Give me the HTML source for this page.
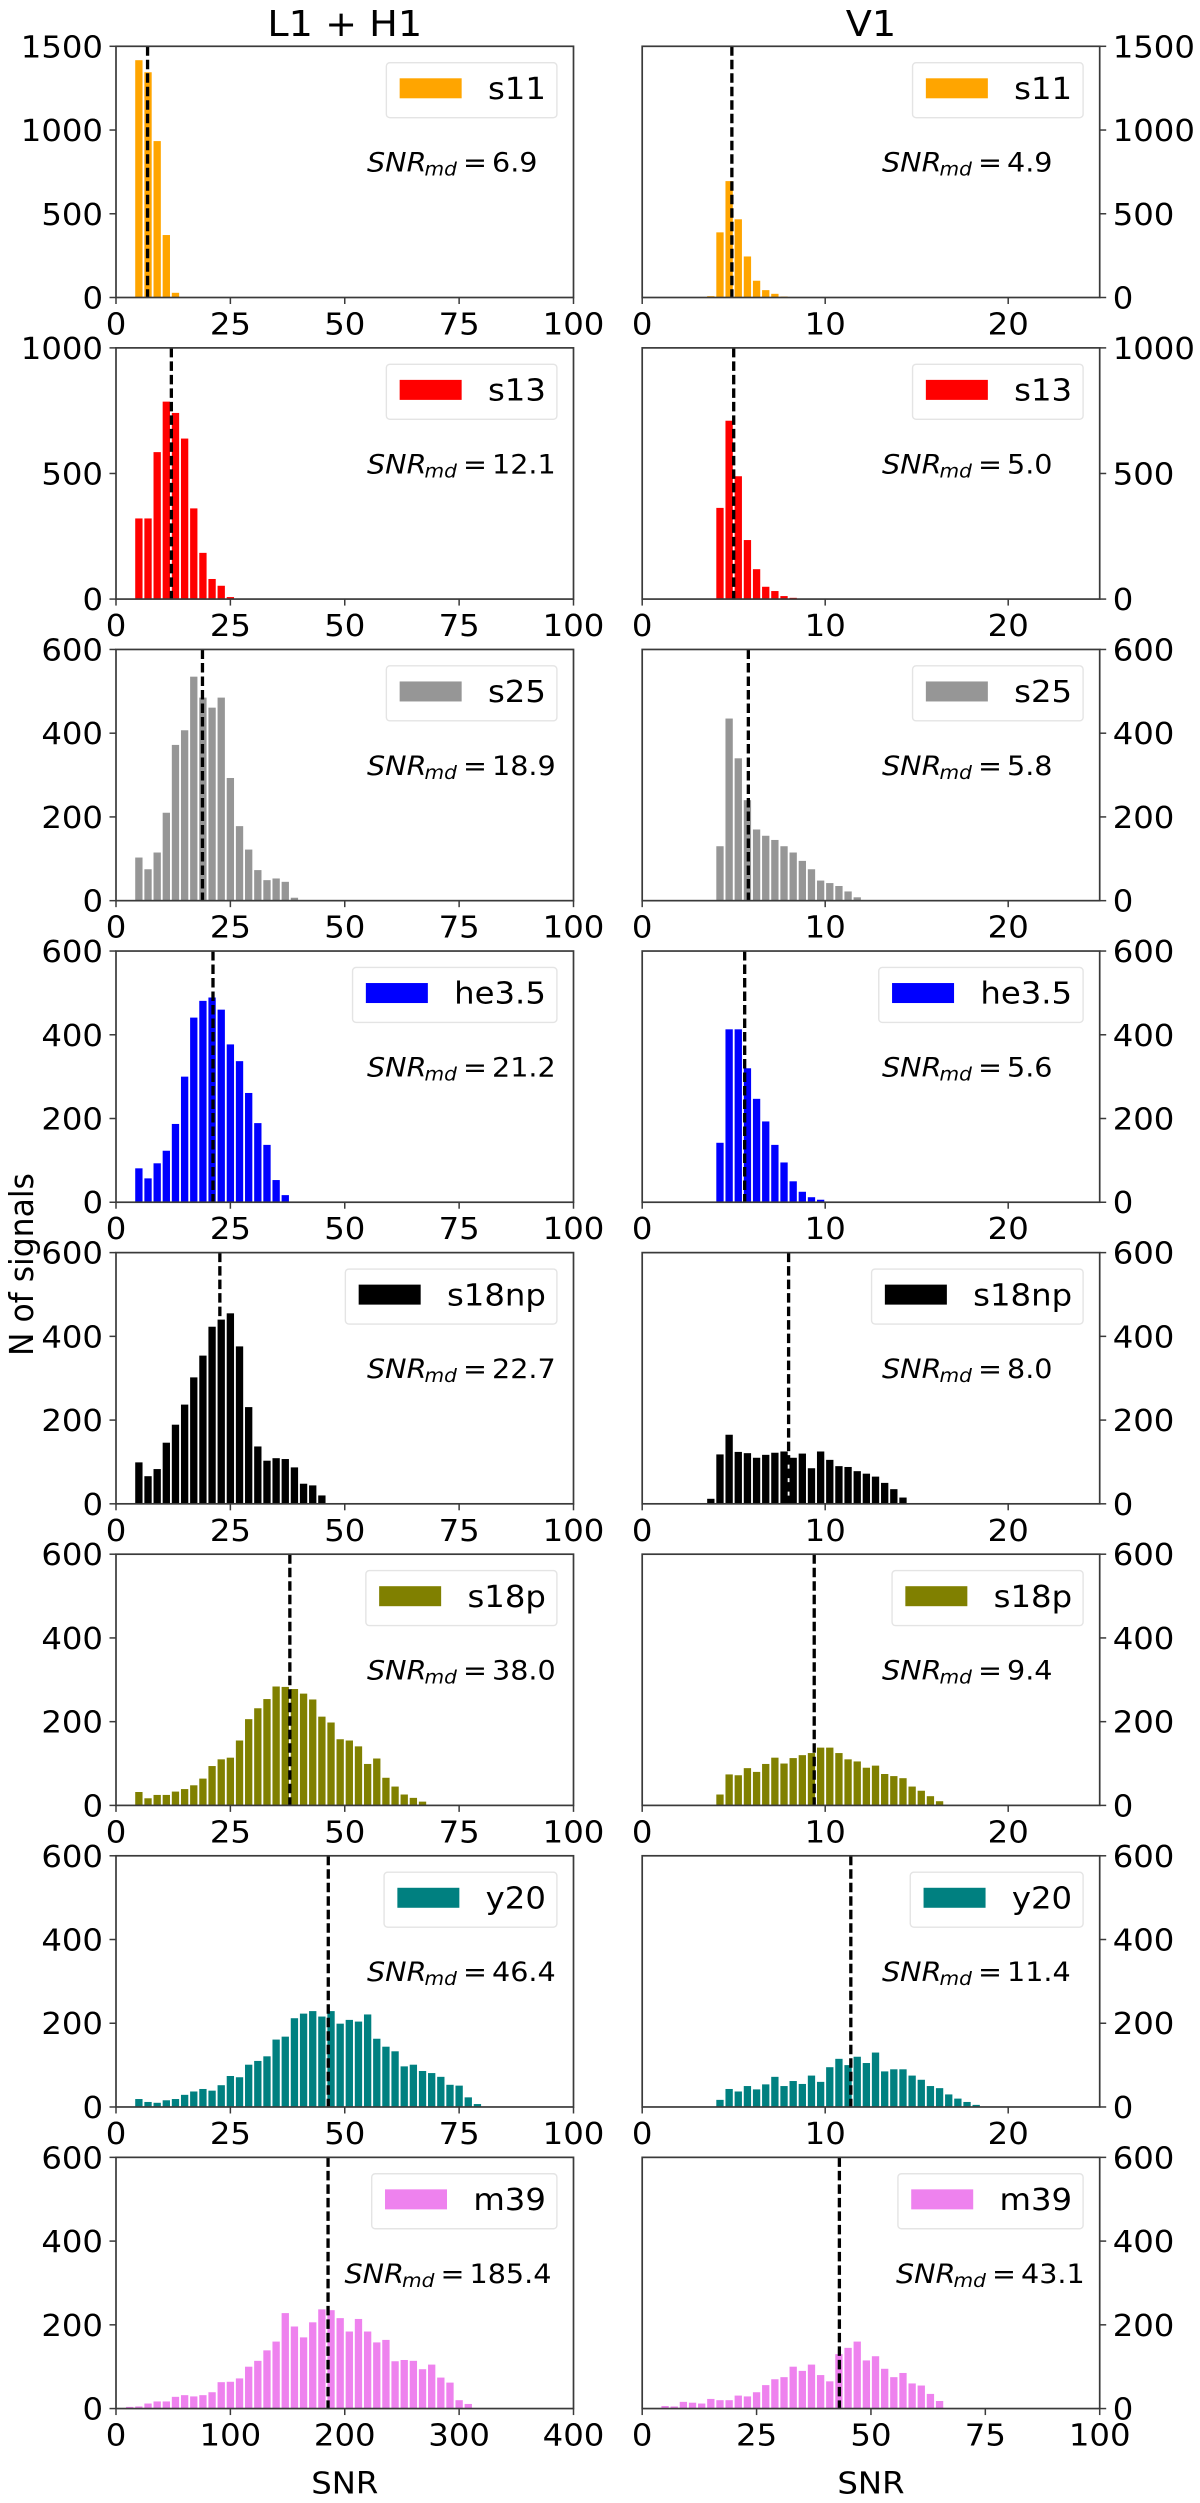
<!DOCTYPE html>
<html lang="en">
<head>
<meta charset="utf-8">
<title>SNR distributions</title>
<style>
html,body{margin:0;padding:0;background:#fff;}
svg{display:block;}
text{font-family:"DejaVu Sans","Liberation Sans",sans-serif;fill:#000;}
</style>
</head>
<body>
<svg id="chart" xmlns="http://www.w3.org/2000/svg" width="1200" height="2503" viewBox="0 0 1200 2503"></svg>
<script>
// ---- categories ----
const waveforms = ['s11','s13','s25','he3.5','s18np','s18p','y20','m39'];
const columnTitles = ['L1 + H1','V1'];
const axisTitleX = 'SNR';
const axisTitleY = 'N of signals';

// ---- printed medians ----
const medianLeft = [6.9,12.1,18.9,21.2,22.7,38.0,46.4,185.4];
const medianRight = [4.9,5.0,5.8,5.6,8.0,9.4,11.4,43.1];

// ---- tick labels ----
const yTicksLarge = [0,500,1000,1500];
const yTicksMedium = [0,500,1000];
const yTicksSmall = [0,200,400,600];
const xTicksLeft = [0,25,50,75,100];
const xTicksLeftWide = [0,100,200,300,400];
const xTicksRight = [0,10,20];
const xTicksRightWide = [0,25,50,75,100];

// ---- axis limits ----
const xMaxLeft = [100,100,100,100,100,100,100,400];
const xMaxRight = [25,25,25,25,25,25,25,100];
const yMax = [1500,1000,600,600,600,600,600,600];

// ---- SNR at the lower edge of the first bin of each series ----
const firstBinLeft = [4,4,4,4,4,4,4,8];
const firstBinRight = [3.5,4,4,4,3.5,4,4,4];

// ---- bin counts, L1 + H1 ----
const s11Left = [1417,1345,934,373,28];
const s13Left = [321,321,585,786,741,639,361,184,80,53,8];
const s25Left = [103,75,115,210,372,407,535,485,461,485,293,178,122,73,49,53,45,7];
const he35Left = [81,57,93,123,187,300,441,481,489,460,377,337,261,189,137,53,17];
const s18npLeft = [99,66,83,146,189,237,302,354,423,440,455,376,231,137,103,109,107,87,48,44,20];
const s18pLeft = [32,17,25,25,33,39,48,64,94,110,114,155,206,232,254,284,283,278,267,253,212,198,158,155,141,99,112,66,45,26,18,9];
const y20Left = [19,12,10,16,19,29,37,43,39,52,74,71,101,110,121,161,168,212,223,229,216,229,199,208,204,221,163,144,133,97,101,86,81,72,53,51,23,7];
const m39Left = [4,5,12,17,17,28,32,29,32,39,63,64,72,100,114,139,160,228,196,170,206,237,235,216,184,214,184,158,164,113,116,114,94,105,74,62,20,11];

// ---- bin counts, V1 ----
const s11Right = [8,389,695,467,245,100,44,22,6];
const s13Right = [363,710,489,235,119,49,32,12,5,2];
const s25Right = [130,435,340,240,170,155,145,130,115,95,75,48,42,35,22,8];
const he35Right = [142,413,413,320,247,193,137,95,50,25,12,6];
const s18npRight = [12,118,165,124,121,110,117,122,125,110,120,85,125,105,90,88,78,72,65,50,35,15];
const s18pRight = [26,74,72,89,80,99,114,100,113,120,125,138,138,125,110,105,90,95,75,70,65,45,35,22,10];
const y20Right = [17,43,37,50,42,54,72,50,62,55,75,60,95,115,100,120,105,130,85,90,90,75,65,50,45,30,20,12,5];
const m39Right = [6,5,16,14,12,23,20,20,31,29,39,56,70,75,100,90,105,80,65,130,145,160,115,125,95,75,85,60,55,35,18];

const seriesLeft = [s11Left,s13Left,s25Left,he35Left,s18npLeft,s18pLeft,y20Left,m39Left];
const seriesRight = [s11Right,s13Right,s25Right,he35Right,s18npRight,s18pRight,y20Right,m39Right];

// ---- style and layout (not data) ----
const colors = ['#ffa500','#ff0000','#969696','#0000ff','#000000','#808000','#008080','#ee82ee'];
const yTickSets = [yTicksLarge,yTicksMedium,yTicksSmall,yTicksSmall,yTicksSmall,yTicksSmall,yTicksSmall,yTicksSmall];
const ROWS = waveforms.length, PLOT_W = 457.5, PLOT_H = 251.2, TOP0 = 46.3, PITCH = 301.58;
const LEFT_X = 116, RIGHT_X = 642.2, FS = 30.5, STRETCH = 1.06;
const NS = 'http://www.w3.org/2000/svg';
const root = document.getElementById('chart');

function make(tag, parent, attrs){
  const el = document.createElementNS(NS, tag);
  for (const k in attrs) el.setAttribute(k, attrs[k]);
  parent.appendChild(el);
  return el;
}
function at(x, y){
  return 'translate(' + x + ' ' + y + ') scale(' + STRETCH + ' 1)';
}

function drawPanel(col, row){
  const isLeft = col === 0;
  const ox = isLeft ? LEFT_X : RIGHT_X;
  const oy = TOP0 + row * PITCH;
  const xMax = (isLeft ? xMaxLeft : xMaxRight)[row];
  const values = (isLeft ? seriesLeft : seriesRight)[row];
  const start = (isLeft ? firstBinLeft : firstBinRight)[row];
  const median = (isLeft ? medianLeft : medianRight)[row];
  const xTicks = isLeft ? (row === 7 ? xTicksLeftWide : xTicksLeft) : (row === 7 ? xTicksRightWide : xTicksRight);
  const yTicks = yTickSets[row];
  const color = colors[row];
  const name = waveforms[row];
  const sx = v => ox + v / xMax * PLOT_W;
  const sy = v => oy + PLOT_H - v / yMax[row] * PLOT_H;
  const binW = xMax / 50;

  const g = make('g', root, {});
  
  

  // bars
  values.forEach((v, i) => {
    const lo = start + i * binW;
    const rect = make('rect', g, {
      x: sx(lo + 0.1 * binW), y: sy(v),
      width: sx(lo + 0.9 * binW) - sx(lo + 0.1 * binW),
      height: sy(0) - sy(v), fill: color
    });
    
    
  });

  // median line
  const line = make('line', g, {
    x1: sx(median), x2: sx(median), y1: oy, y2: oy + PLOT_H,
    stroke: '#000', 'stroke-width': 3.3, 'stroke-dasharray': '9.5 4'
  });
  
  

  // frame
  const frame = make('rect', g, {
    x: ox, y: oy, width: PLOT_W, height: PLOT_H,
    fill: 'none', stroke: '#3a3a3a', 'stroke-width': 1.7
  });
  
  

  // x ticks
  xTicks.forEach(t => {
    const tick = make('line', g, {
      x1: sx(t), x2: sx(t), y1: oy + PLOT_H, y2: oy + PLOT_H + 6.5,
      stroke: '#3a3a3a', 'stroke-width': 1.5
    });
    
    
    const label = make('text', g, {
      transform: at(sx(t), oy + PLOT_H + 37), 'text-anchor': 'middle', 'font-size': FS
    });
    label.textContent = String(t);
    
    
  });

  // y ticks
  yTicks.forEach(t => {
    const xa = isLeft ? ox - 6.5 : ox + PLOT_W;
    const tick = make('line', g, {
      x1: xa, x2: xa + 6.5, y1: sy(t), y2: sy(t),
      stroke: '#3a3a3a', 'stroke-width': 1.5
    });
    
    
    const label = make('text', g, {
      transform: at(isLeft ? ox - 13 : ox + PLOT_W + 13, sy(t) + 11),
      'text-anchor': isLeft ? 'end' : 'start',
      'font-size': FS
    });
    label.textContent = String(t);
    
    
  });

  // legend
  const legend = make('g', g, {});
  
  
  const right = ox + PLOT_W - 16.6;
  const box = make('rect', legend, {
    y: oy + 16.4, height: 55, rx: 3.5, ry: 3.5,
    fill: '#fff', stroke: '#e4e4e4', 'stroke-width': 1.4
  });
  
  
  const lt = make('text', legend, {
    transform: at(right - 11, oy + 52.7), 'text-anchor': 'end', 'font-size': FS
  });
  lt.textContent = name;
  
  
  const tw = lt.getComputedTextLength() * STRETCH;
  const textLeft = right - 11 - tw;
  box.setAttribute('x', textLeft - 26.3 - 62 - 13.3);
  box.setAttribute('width', tw + 11 + 26.3 + 62 + 13.3);
  const patch = make('rect', legend, {
    x: textLeft - 26.3 - 62, y: oy + 32, width: 62, height: 20, fill: color
  });
  
  

  // annotation
  let ax = isLeft ? 367 : 882;
  if (row === 7) ax = isLeft ? 344.5 : 896;
  const by = oy + 125.4;
  const ann = make('g', g, {});
  
  
  const t1 = make('text', ann, {transform: at(ax, by), 'font-size': 27, 'font-style': 'italic'});
  t1.textContent = 'SNR';
  const t2 = make('text', ann, {transform: at(ax + 57.5, by + 4), 'font-size': 19, 'font-style': 'italic'});
  t2.textContent = 'md';
  const t3 = make('text', ann, {transform: at(ax + 96, by), 'font-size': 27});
  t3.textContent = '=';
  const t4 = make('text', ann, {transform: at(ax + 125, by), 'font-size': 27});
  t4.textContent = median.toFixed(1);

  // x axis title on the bottom row
  if (row === ROWS - 1) {
    const xt = make('text', g, {
      transform: at(ox + PLOT_W / 2, 2493.5), 'text-anchor': 'middle', 'font-size': FS
    });
    xt.textContent = axisTitleX;
    
    
  }
}

for (let r = 0; r < ROWS; r++) {
  drawPanel(0, r);
  drawPanel(1, r);
}

const titleL = make('text', root, {transform: at(LEFT_X + PLOT_W / 2, 36), 'text-anchor': 'middle', 'font-size': 36});
titleL.textContent = columnTitles[0];



const titleR = make('text', root, {transform: at(RIGHT_X + PLOT_W / 2, 36), 'text-anchor': 'middle', 'font-size': 36});
titleR.textContent = columnTitles[1];



const yTitle = make('text', root, {
  'font-size': 31.4, 'text-anchor': 'start',
  transform: 'translate(33 1356) rotate(-90) scale(1 1.06)'
});
yTitle.textContent = axisTitleY;


</script>
</body>
</html>
